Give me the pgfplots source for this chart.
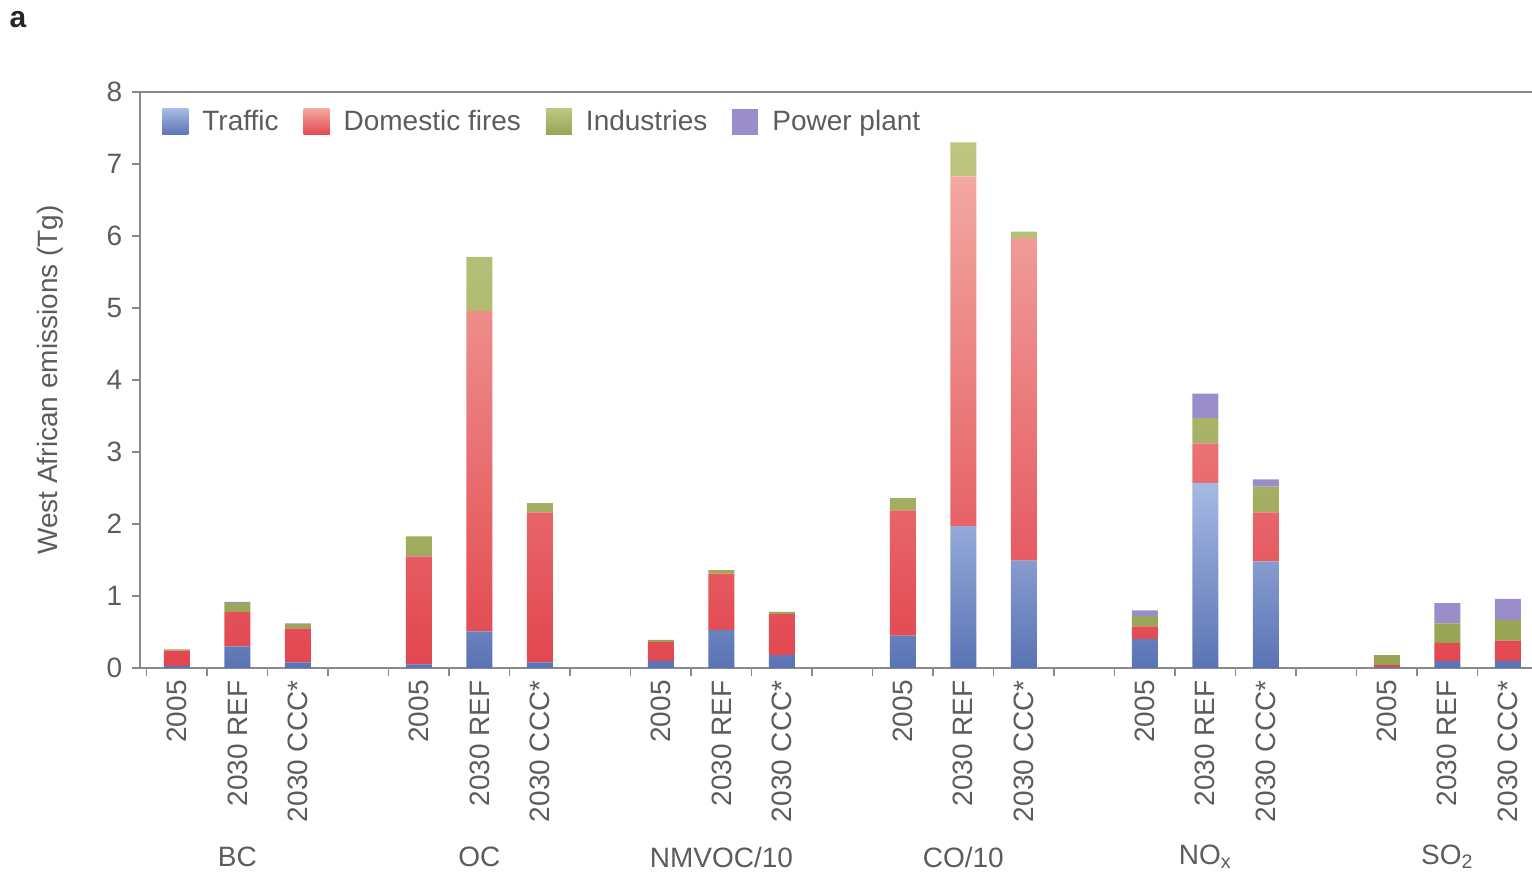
\documentclass[border=0pt]{standalone}
\usepackage{pgfplots}
\pgfplotsset{compat=1.18}
\usepackage{fontspec}
\setmainfont{Liberation Sans}

\definecolor{trafBot}{HTML}{5A73B4}
\definecolor{trafTop}{HTML}{A6BAE4}
\definecolor{domBot}{HTML}{E2464F}
\definecolor{domTop}{HTML}{F2A8A1}
\definecolor{indBot}{HTML}{97A354}
\definecolor{indTop}{HTML}{BEC680}
\definecolor{powFill}{HTML}{9A8DC9}
\definecolor{axisgray}{HTML}{8A8A8A}
\definecolor{textgray}{HTML}{5C5C5C}

\pgfplotsset{
  sq/.style={legend image code/.code={\path[##1] (0pt,-6.5pt) rectangle (13pt,6.5pt);}},
}

\begin{document}
\fontsize{14}{17}\selectfont
\begin{tikzpicture}
\path[use as bounding box] (0,0) rectangle (766pt,-439pt);
\node[font=\fontsize{15}{18}\selectfont\bfseries, text=black!85] at (9pt,-10pt) {a};
\begin{axis}[
  at={(70pt,-334pt)}, anchor=south west,
  width=696pt, height=288pt, scale only axis,
  xmin=-0.61, xmax=22.40, ymin=0, ymax=8,
  ybar stacked, bar width=13pt,
  clip=false,
  axis x line*=bottom, axis y line*=left,
  axis line style={-, draw=axisgray, line width=0.8pt},
  ytick={0,...,8},
  xtick={0,1,2,4,5,6,8,9,10,12,13,14,16,17,18,20,21,22},
  xticklabels={2005,2030 REF,2030 CCC*,2005,2030 REF,2030 CCC*,2005,2030 REF,2030 CCC*,
               2005,2030 REF,2030 CCC*,2005,2030 REF,2030 CCC*,2005,2030 REF,2030 CCC*},
  minor xtick={-0.5,0.5,...,21.5},
  tick align=outside, major tick length=4pt, minor tick length=4pt,
  tick style={axisgray, line width=0.8pt},
  major x tick style={draw=none},
  tick label style={text=textgray},
  /pgf/number format/assume math mode=true,
  xticklabel style={rotate=90, anchor=east, inner sep=2pt},
  ylabel={West African emissions (Tg)},
  every axis y label/.style={at={(axis description cs:-0.0647,0.5)}, rotate=90, anchor=center, text=textgray},
  legend style={draw=none, fill=none, at={(axis description cs:0.0158,0.948)}, anchor=west,
    legend columns=-1, text=textgray, inner xsep=0pt, inner ysep=0pt,
    /tikz/every even column/.append style={column sep=10.5pt},
    /tikz/every odd column/.append style={column sep=5pt}},
]
% Traffic
\addplot[draw=none, top color=trafTop, bottom color=trafBot, sq] coordinates {
  (0,0.03) (1,0.30) (2,0.08)
  (4,0.05) (5,0.51) (6,0.08)
  (8,0.10) (9,0.53) (10,0.18)
  (12,0.45) (13,1.97) (14,1.49)
  (16,0.40) (17,2.57) (18,1.48)
  (20,0.01) (21,0.10) (22,0.10)};
% Domestic fires
\addplot[draw=none, top color=domTop, bottom color=domBot, sq] coordinates {
  (0,0.21) (1,0.48) (2,0.47)
  (4,1.50) (5,4.45) (6,2.08)
  (8,0.26) (9,0.78) (10,0.57)
  (12,1.74) (13,4.86) (14,4.48)
  (16,0.18) (17,0.55) (18,0.68)
  (20,0.03) (21,0.25) (22,0.28)};
% Industries
\addplot[draw=none, top color=indTop, bottom color=indBot, sq] coordinates {
  (0,0.02) (1,0.12) (2,0.06)
  (4,0.28) (5,0.75) (6,0.13)
  (8,0.03) (9,0.05) (10,0.03)
  (12,0.17) (13,0.47) (14,0.09)
  (16,0.14) (17,0.35) (18,0.36)
  (20,0.14) (21,0.27) (22,0.29)};
% Power plant
\addplot[draw=none, fill=powFill, sq] coordinates {
  (0,0) (1,0.02) (2,0.01)
  (4,0) (5,0) (6,0)
  (8,0) (9,0) (10,0)
  (12,0) (13,0) (14,0)
  (16,0.08) (17,0.34) (18,0.10)
  (20,0) (21,0.28) (22,0.29)};
\legend{Traffic, Domestic fires, Industries, Power plant}

\draw[axisgray, line width=0.8pt] (rel axis cs:0,1) -- (rel axis cs:1,1);

% pollutant group names
\node[text=textgray] at (axis cs:1,0)  [yshift=-94.5pt] {BC};
\node[text=textgray] at (axis cs:5,0)  [yshift=-94.5pt] {OC};
\node[text=textgray] at (axis cs:9,0)  [yshift=-94.5pt] {NMVOC/10};
\node[text=textgray] at (axis cs:13,0) [yshift=-94.5pt] {CO/10};
\node[text=textgray] at (axis cs:17,0) [yshift=-94.5pt] {NO\textsubscript{x}};
\node[text=textgray] at (axis cs:21,0) [yshift=-94.5pt] {SO\textsubscript{2}};
\end{axis}
\end{tikzpicture}
\end{document}
